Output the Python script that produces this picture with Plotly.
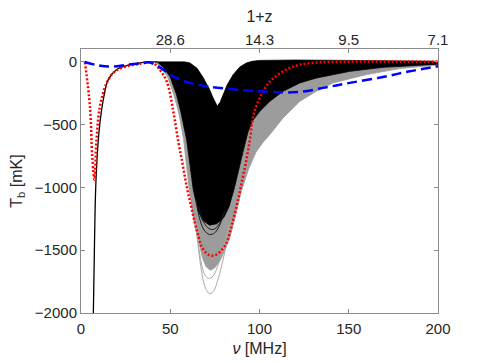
import plotly.graph_objects as go

# frequency axis ticks / top redshift labels
top_ticks = [50, 100, 150, 200]
top_labels = ["28.6", "14.3", "9.5", "7.1"]

# outline of the grey bundle of curves (lower edge, then back along the top edge)
gray_x = [41.5, 45, 48.5, 52, 55, 57.5, 60.5, 63, 65.7, 68, 70, 72.5, 75, 78, 80, 83.4, 87, 90, 94, 98,
          102, 105.8, 113.2, 122.6, 131.9, 141.2, 160, 178.6, 200, 200, 150, 120, 100, 96, 92.7, 89, 85.3,
          82, 79.7, 78, 76.3, 74, 72, 68.5, 65, 61, 58, 41.5]
gray_y = [0, -40, -120, -260, -420, -620, -1000, -1250, -1416, -1560, -1630, -1660, -1640, -1580, -1520,
          -1400, -1200, -1020, -850, -720, -640, -579, -446, -314, -234, -167, -101, -53, -25, 0, 5, 5, 3,
          0, -12, -45, -105, -185, -265, -325, -350, -290, -225, -130, -55, -12, 0, 0]

# a few deep grey curves below the bundle
gray_c1_x = [64, 65.5, 67, 68.5, 70, 72.2, 74.5, 77, 79.5, 82, 84.5]
gray_c1_y = [-1270, -1450, -1620, -1740, -1810, -1847, -1820, -1720, -1580, -1420, -1260]
gray_c2_x = [64.5, 67.5, 69.5, 71.5, 74, 76.5, 79.5, 83]
gray_c2_y = [-1300, -1610, -1700, -1725, -1705, -1630, -1500, -1300]

# outline of the black bundle
black_x = [42.7, 58, 61, 65, 68.5, 72, 74, 76.3, 78, 79.7, 82, 85.3, 89, 92.7, 96, 100, 120, 150, 180, 200,
           200, 185, 169.2, 150.6, 131.9, 122.6, 113.2, 105.8, 100.2, 96, 93.5, 90, 86, 83, 80, 76, 72, 68,
           65.5, 62.9, 59.2, 56, 53.5, 50, 46, 42.7]
black_y = [0, 0, -8, -50, -127, -220, -287, -354, -320, -260, -180, -101, -40, -8, 5, 12, 15, 12, 8, 5,
           -18, -32, -43, -75, -128, -167, -234, -314, -393, -470, -560, -760, -1000, -1150, -1240, -1290,
           -1300, -1260, -1180, -1018, -620, -400, -260, -120, -40, 0]

# deepest black curves
black_c1_x = [64.5, 66.5, 69, 72, 75, 78, 81]
black_c1_y = [-1100, -1250, -1340, -1375, -1360, -1290, -1170]
black_c2_x = [66, 68.5, 71, 74, 77, 80]
black_c2_y = [-1150, -1270, -1320, -1335, -1300, -1200]

# black solid line at low frequency
black_left_x = [6.8, 7.5, 8.2, 9.3, 10.6, 12.5, 15.3, 20, 25.6, 33, 38, 42.7]
black_left_y = [-2100, -1496, -1018, -699, -486, -300, -141, -61, -29, -8, 0, 0]

# red dotted curve
red_x = [2.2, 5, 6.3, 7.5, 8.7, 10.6, 14.4, 19, 25.6, 33, 38, 40.5, 44, 48, 51.7, 54.5, 57, 59.2, 61.5,
         63.8, 65.8, 67.5, 70, 72, 74, 76.5, 79, 81.5, 84.5, 88, 90.5, 92.7, 94.8, 96.5, 98.3, 100.2, 102.8,
         105.8, 109.5, 113.2, 117.5, 122.6, 130, 141, 160, 180, 200]
red_y = [-3, -354, -752, -938, -619, -354, -167, -75, -35, -14, -2, -8, -60, -154, -393, -633, -820, -991,
         -1140, -1281, -1390, -1470, -1520, -1540, -1543, -1530, -1495, -1443, -1300, -1097, -930, -778, -600,
         -430, -350, -285, -215, -155, -110, -75, -45, -22, -8, 0, 3, 3, 2]

# blue dashed curve
blue_x = [2, 9.5, 17, 26.3, 35.6, 38, 43.3, 51.7, 61, 70.4, 81.5, 94.6, 107.6, 122.6, 137.5, 150.6, 169.2,
          184, 200]
blue_y = [0, -27, -37, -22, -8, -3, -35, -115, -167, -194, -213, -229, -240, -239, -202, -167, -120, -75, -35]

FONT = "Liberation Sans, Arial, sans-serif"
AXC = "#8c8c8c"
TXC = "#262626"

fig = go.Figure()

fig.add_trace(go.Scatter(x=gray_x, y=gray_y, mode="lines", fill="toself", fillcolor="#9c9c9c",
                         line=dict(color="#9c9c9c", width=0.8), hoverinfo="skip"))
for cx, cy in [(gray_c1_x, gray_c1_y), (gray_c2_x, gray_c2_y)]:
    fig.add_trace(go.Scatter(x=cx, y=cy, mode="lines", line=dict(color="#a8a8a8", width=1, shape="spline"),
                             hoverinfo="skip"))

fig.add_trace(go.Scatter(x=black_x, y=black_y, mode="lines", fill="toself", fillcolor="black",
                         line=dict(color="black", width=0.8), hoverinfo="skip"))
for cx, cy in [(black_c1_x, black_c1_y), (black_c2_x, black_c2_y)]:
    fig.add_trace(go.Scatter(x=cx, y=cy, mode="lines", line=dict(color="#1a1a1a", width=1, shape="spline"),
                             hoverinfo="skip"))

fig.add_trace(go.Scatter(x=black_left_x, y=black_left_y, mode="lines",
                         line=dict(color="black", width=1.3, shape="spline"), hoverinfo="skip"))

fig.add_trace(go.Scatter(x=red_x, y=red_y, mode="lines",
                         line=dict(color="#ff0000", width=2.5, dash="2px,2px", shape="spline"), hoverinfo="skip"))
fig.add_trace(go.Scatter(x=blue_x, y=blue_y, mode="lines",
                         line=dict(color="#0000ff", width=2.5, dash="10px,5px", shape="spline"), hoverinfo="skip"))

# dummy trace so that the top axis is drawn
fig.add_trace(go.Scatter(x=[0, 200], y=[-5000, -5000], xaxis="x2", mode="lines", hoverinfo="skip",
                         line=dict(width=0)))

# the page body has an 8px margin, so the margins here are shifted by it
fig.update_layout(
    width=485, height=363,
    margin=dict(l=73, r=55, t=41, b=58),
    plot_bgcolor="white", paper_bgcolor="white",
    showlegend=False,
    font=dict(family=FONT, size=15, color=TXC),
    xaxis=dict(range=[0, 200], tickvals=[0, 50, 100, 150, 200], ticks="inside", ticklen=4,
               tickcolor=AXC, showline=True, linecolor=AXC, linewidth=1, mirror=True,
               showgrid=False, zeroline=False, automargin=False, ticklabelstandoff=2,
               title=dict(text="<i>ν</i> [MHz]", standoff=6, font=dict(size=16))),
    xaxis2=dict(range=[0, 200], overlaying="x", side="top", tickvals=top_ticks, ticktext=top_labels,
                ticks="inside", ticklen=4, tickcolor=AXC, showline=False, showgrid=False,
                zeroline=False, automargin=False,
                title=dict(text="1+z", standoff=6, font=dict(size=16))),
    yaxis=dict(range=[-2000, 103], tickvals=[0, -500, -1000, -1500, -2000], ticks="inside", ticklen=4,
               tickcolor=AXC, showline=True, linecolor=AXC, linewidth=1, mirror="ticks",
               showgrid=False, zeroline=False, automargin=False,
               title=dict(text="T<sub>b</sub> [mK]", standoff=12, font=dict(size=16))),
)

fig.write_html("out.html")
